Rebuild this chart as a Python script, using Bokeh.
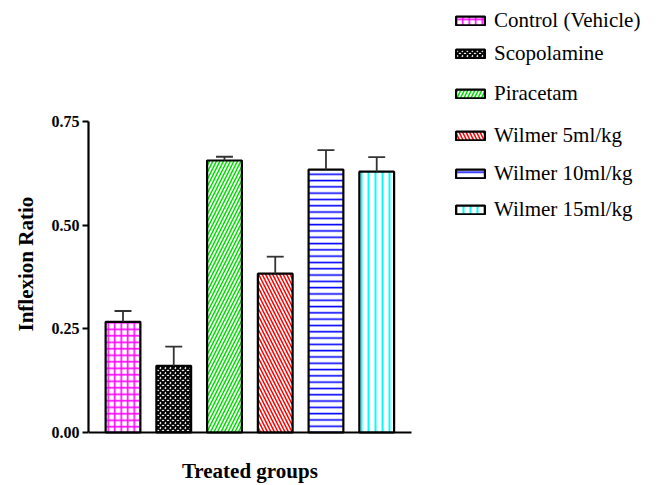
from bokeh.plotting import figure
from bokeh.models import (Range1d, FixedTicker, ColumnDataSource, PrintfTickFormatter,
                          Legend, LegendItem, Title)
from bokeh.core.properties import value
from bokeh.embed import file_html
from bokeh.resources import INLINE

# ---- data ----
groups = ["Control (Vehicle)", "Scopolamine", "Piracetam",
          "Wilmer 5ml/kg", "Wilmer 10ml/kg", "Wilmer 15ml/kg"]
means = [0.267, 0.161, 0.656, 0.383, 0.634, 0.629]
sems = [0.026, 0.046, 0.009, 0.041, 0.047, 0.035]
y_ticks = [0.0, 0.25, 0.50, 0.75]
y_max = 0.75
x_title = "Treated groups"
y_title = "Inflexion Ratio"

# ---- styles / layout ----
hatch_patterns = ["+", "x", "/", "\\", "-", "|"]
hatch_colors = ["#ff00ff", "#000000", "#00dd00", "#ff0000", "#0000ff", "#00ffff"]
hatch_scales = [6.5, 5, 7, 7, 6.3, 7]
hatch_weights = [1.6, 2.0, 1.5, 1.5, 1.6, 2.0]

FONT = "Liberation Serif"
BAR_W = 0.685
CAP_HALF = 0.167
X_PAD = 0.68

W, H = 656, 484
FRAME_L = 84                       # left border (px)
AXIS_TOP_PX = 121                  # pixel row of y_max
Y0_PX = 432                        # pixel row of y = 0
XTITLE_PX = 470                    # pixel row of x-axis title centre
AXIS_LEN_X_PX = 325                # pixel length of x axis

frame_w = W - FRAME_L
x0 = -X_PAD
x_axis_end = len(groups) - 1 + X_PAD
px_per_x = AXIS_LEN_X_PX / (x_axis_end - x0)
x_end = x0 + frame_w / px_per_x
px_per_y = (Y0_PX - AXIS_TOP_PX) / y_max
y_top = Y0_PX / px_per_y
y_bot = -(H - Y0_PX) / px_per_y

xs = list(range(len(groups)))
src = ColumnDataSource(dict(
    x=xs, top=means,
    upper=[m + s for m, s in zip(means, sems)],
    cl=[x - CAP_HALF for x in xs], cr=[x + CAP_HALF for x in xs],
    hp=hatch_patterns, hc=hatch_colors, hs=hatch_scales, hw=hatch_weights,
))

p = figure(width=W, height=H, output_backend="svg", toolbar_location=None,
           x_range=Range1d(x0, x_end), y_range=Range1d(y_bot, y_top),
           min_border_left=FRAME_L, min_border_right=0, min_border_top=0,
           min_border_bottom=0)
p.outline_line_color = None
p.grid.visible = False
p.background_fill_color = "white"

bars = p.vbar(x="x", top="top", bottom=0, width=BAR_W, source=src,
              fill_color="white", line_color="black", line_width=2.2,
              hatch_pattern="hp", hatch_color="hc", hatch_scale="hs", hatch_weight="hw")
p.segment(x0="x", y0="top", x1="x", y1="upper", source=src,
          line_color="#333333", line_width=1.8)
p.segment(x0="cl", y0="upper", x1="cr", y1="upper", source=src,
          line_color="#333333", line_width=1.8)

# y axis
ya = p.yaxis[0]
ya.bounds = (0, y_max)
ya.ticker = FixedTicker(ticks=y_ticks)
ya.formatter = PrintfTickFormatter(format="%.2f")
ya.minor_tick_line_color = None
ya.major_tick_in = 0
ya.major_tick_out = 6
ya.major_tick_line_width = 2
ya.axis_line_width = 2.2
ya.major_label_standoff = 3
ya.major_label_text_font = FONT
ya.major_label_text_font_style = "bold"
ya.major_label_text_font_size = "16px"
ya.major_label_text_color = "black"

# x axis, drawn at y = 0 inside the frame
xa = p.xaxis[0]
xa.fixed_location = 0
xa.bounds = (x0, x_axis_end)
xa.ticker = FixedTicker(ticks=[])
xa.minor_tick_line_color = None
xa.major_tick_line_color = None
xa.major_tick_in = 0
xa.major_tick_out = 0
xa.major_label_standoff = 0
xa.major_label_text_font_size = "0px"
xa.axis_line_width = 2.2

# axis titles
p.add_layout(Title(text=y_title, align="left", offset=H - 331, standoff=22,
                   text_font=FONT, text_font_style="bold", text_font_size="21px",
                   text_color="black"), "left")
p.text(x=[(x0 + x_axis_end) / 2], y=[-(XTITLE_PX - Y0_PX) / px_per_y], text=[x_title],
       text_font=value(FONT), text_font_style="bold", text_font_size="21px",
       text_color="black", text_align="center", text_baseline="middle")

# ---- legend (one box per row, so that rows keep their own positions) ----
leg_rows = [22, 55, 95, 137, 175, 211]   # row centres, px from top
LEG_X, ROW_H = 364, 22
for i, g in enumerate(groups):
    lg = Legend(
        items=[LegendItem(label=g, renderers=[bars], index=i)],
        location=(LEG_X, H - (leg_rows[i] + ROW_H / 2)),
        glyph_width=36, glyph_height=11, label_height=ROW_H, label_standoff=6,
        spacing=0, padding=0, margin=0,
        border_line_color=None, background_fill_alpha=0,
        label_text_font=FONT, label_text_font_size="21px", label_text_color="black",
    )
    p.add_layout(lg, "center")

open("out.html", "w").write(file_html(p, INLINE))
